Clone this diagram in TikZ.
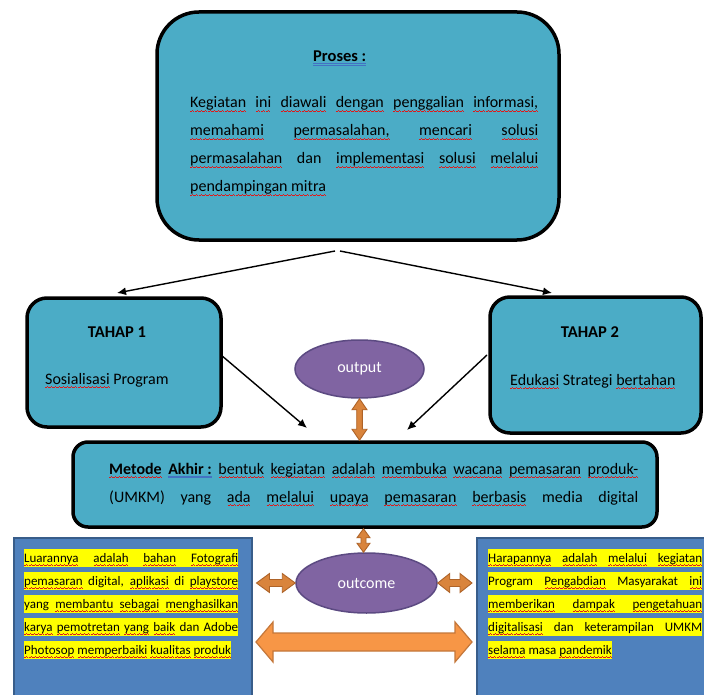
\documentclass[tikz,border=0pt]{standalone}
\usepackage{fontspec}
\setmainfont{Carlito}
\usetikzlibrary{shapes.geometric,arrows.meta,calc}
\definecolor{boxteal}{HTML}{4BACC6}
\definecolor{purfill}{HTML}{8064A2}
\definecolor{purdraw}{HTML}{5C4A82}
\definecolor{bluefill}{HTML}{4F81BD}
\definecolor{bluedraw}{HTML}{385D8A}
\definecolor{arrowor}{HTML}{D9843C}
\definecolor{arrowordk}{HTML}{AE6328}
\definecolor{bigor}{HTML}{F79646}
\definecolor{bigordk}{HTML}{C4773A}
\definecolor{wavered}{HTML}{E01818}
\definecolor{ulblue}{HTML}{4472C4}
\definecolor{hlyellow}{HTML}{FFFF00}
\newsavebox\rwbox
\newcommand\wavepiece{\rule[-4.0pt]{1pt}{0.7pt}\rule[-3.4pt]{1pt}{0.7pt}\rule[-2.8pt]{1pt}{0.7pt}\rule[-3.4pt]{1pt}{0.7pt}}
\newcommand\rw[1]{\sbox\rwbox{#1}\rlap{\textcolor{wavered}{\hbox to \wd\rwbox{\xleaders\hbox{\wavepiece}\hfil}}}\usebox\rwbox}
\newcommand\bdl[1]{\sbox\rwbox{#1}\rlap{\textcolor{ulblue}{\rule[-3.6pt]{\wd\rwbox}{0.7pt}}}\rlap{\textcolor{ulblue}{\rule[-2.2pt]{\wd\rwbox}{0.7pt}}}\usebox\rwbox}
\newcommand\jline[2]{\makebox[#1][s]{#2}}
\newcommand\hlj[2]{{\setlength{\fboxsep}{0pt}\colorbox{hlyellow}{\rule[-4.5pt]{0pt}{18pt}\makebox[#1][s]{#2}}}}
\newcommand\hln[1]{{\setlength{\fboxsep}{0pt}\colorbox{hlyellow}{\rule[-4.5pt]{0pt}{18pt}#1}}}
\newcommand\blockH[6]{\filldraw[#1] let \p1=(#2), \p2=(#3) in
  (\x1,\y1) -- (\x1+#6pt,\y1+#5pt) -- (\x1+#6pt,\y1+#4pt) -- (\x2-#6pt,\y1+#4pt) -- (\x2-#6pt,\y1+#5pt)
  -- (\x2,\y1) -- (\x2-#6pt,\y1-#5pt) -- (\x2-#6pt,\y1-#4pt) -- (\x1+#6pt,\y1-#4pt) -- (\x1+#6pt,\y1-#5pt) -- cycle;}
\newcommand\blockV[6]{\filldraw[#1] let \p1=(#2), \p2=(#3) in
  (\x1,\y1) -- (\x1+#5pt,\y1-#6pt) -- (\x1+#4pt,\y1-#6pt) -- (\x1+#4pt,\y2+#6pt) -- (\x1+#5pt,\y2+#6pt)
  -- (\x1,\y2) -- (\x1-#5pt,\y2+#6pt) -- (\x1-#4pt,\y2+#6pt) -- (\x1-#4pt,\y1-#6pt) -- (\x1-#5pt,\y1-#6pt) -- cycle;}
\begin{document}
\begin{tikzpicture}[x=1pt,y=-1pt,
  tealbox/.style={draw=black, line width=3.5pt, fill=boxteal, inner sep=0pt},
  purpleell/.style={ellipse, draw=purdraw, line width=1.5pt, fill=purfill, text=white, inner sep=0pt, font=\fontsize{16}{19}\selectfont},
  bluebox/.style={draw=bluedraw, line width=1.5pt, fill=bluefill, inner sep=0pt},
  txt/.style={inner sep=0pt, font=\fontsize{16}{19}\selectfont},
  smalltxt/.style={inner sep=0pt, anchor=base west, font=\fontsize{13}{16}\selectfont},
  headtxt/.style={inner sep=0pt, anchor=base, font=\fontsize{16.5}{19}\selectfont\bfseries},
  blackarrow/.style={-{Latex[length=9pt,width=8pt]}, line width=1.4pt},
  smallarrow/.style={fill=arrowor, draw=arrowordk, line width=0.9pt},
  bigarrow/.style={fill=bigor, draw=bigordk, line width=1.2pt}]
\useasboundingbox (0,0) rectangle (704,695);
\fill[white] (0,0) rectangle (704,695);

% Proses
\node[tealbox, rounded corners=42pt, minimum width=402pt, minimum height=228pt] (proses) at (358,126) {};
\node[headtxt, anchor=base west] (prosestitle) at (313,62) {\bdl{Proses :}};
\node[txt, anchor=base west] (p1) at (190,108) {\jline{348pt}{\rw{Kegiatan} \rw{ini} \rw{diawali} \rw{dengan} \rw{penggalian} \rw{informasi,}}};
\node[txt, anchor=base west] (p2) at (190,136) {\jline{348pt}{\rw{memahami} \rw{permasalahan,} \rw{mencari} \rw{solusi}}};
\node[txt, anchor=base west] (p3) at (190,164) {\jline{348pt}{\rw{permasalahan} dan \rw{implementasi} \rw{solusi} \rw{melalui}}};
\node[txt, anchor=base west] (p4) at (190,192) {\rw{pendampingan mitra}};

% Tahap boxes
\node[tealbox, rounded corners=20pt, minimum width=194pt, minimum height=129pt] (tahap1) at (124,362.5) {};
\node[headtxt] (t1title) at (117,337) {TAHAP 1};
\node[txt, anchor=base west] (t1text) at (45,384) {\rw{Sosialisasi} Program};
\node[tealbox, rounded corners=20pt, minimum width=211pt, minimum height=136pt] (tahap2) at (595.5,365) {};
\node[headtxt] (t2title) at (590,337) {TAHAP 2};
\node[txt, anchor=base west] (t2text) at (510,385) {\rw{Edukasi} Strategi \rw{bertahan}};

% output ellipse
\node[purpleell, minimum width=129pt, minimum height=58pt] (output) at (359.5,369) {output};

% Metode box
\node[tealbox, rounded corners=15pt, minimum width=584pt, minimum height=85pt] (metode) at (365,484.5) {};
\node[txt, anchor=base west] (m1) at (109,474) {\jline{529pt}{{\bfseries\rw{Metode} \bdl{Akhir :}} \rw{bentuk} \rw{kegiatan} \rw{adalah} \rw{membuka} \rw{wacana} \rw{pemasaran} \rw{produk-}}};
\node[txt, anchor=base west] (m2) at (109,502) {\jline{529pt}{(UMKM) yang \rw{ada} \rw{melalui} \rw{upaya} \rw{pemasaran} \rw{berbasis} media digital}};

% bottom boxes
\node[bluebox, minimum width=238pt, minimum height=180pt, anchor=north west] (leftbox) at (13,537) {};
\node[bluebox, minimum width=240pt, minimum height=180pt, anchor=north west] (rightbox) at (476,537) {};

\node[smalltxt] (b1) at (24,562) {\hlj{214pt}{\rw{Luarannya} \rw{adalah} \rw{bahan} \rw{Fotografi}}};
\node[smalltxt] (b2) at (24,585) {\hlj{214pt}{\rw{pemasaran} digital, \rw{aplikasi} di \rw{playstore}}};
\node[smalltxt] (b3) at (24,608) {\hlj{214pt}{yang \rw{membantu} \rw{sebagai} \rw{menghasilkan}}};
\node[smalltxt] (b4) at (24,631) {\hlj{214pt}{\rw{karya} \rw{pemotretan} \rw{yang} \rw{baik} dan Adobe}};
\node[smalltxt] (b5) at (24,654) {\hln{\rw{Photosop} \rw{memperbaiki} \rw{kualitas} \rw{produk}}};

\node[smalltxt] (r1) at (488,562) {\hlj{214pt}{\rw{Harapannya} \rw{adalah} \rw{melalui} \rw{kegiatan}}};
\node[smalltxt] (r2) at (488,585) {\hlj{214pt}{Program \rw{Pengabdian} Masyarakat \rw{ini}}};
\node[smalltxt] (r3) at (488,608) {\hlj{214pt}{\rw{memberikan} \rw{dampak} \rw{pengetahuan}}};
\node[smalltxt] (r4) at (488,631) {\hlj{214pt}{\rw{digitalisasi} dan keterampilan UMKM}};
\node[smalltxt] (r5) at (488,654) {\hln{\rw{selama} masa \rw{pandemik}}};

% outcome ellipse
\node[purpleell, minimum width=141pt, minimum height=60pt] (outcome) at (366.5,583) {outcome};

% black arrows
\coordinate (pa) at (335,251);
\coordinate (pb) at (340,251);
\coordinate (t1in) at (117,293);
\coordinate (t2in) at (552,293);
\draw[blackarrow] (pa) -- (t1in);
\draw[blackarrow] (pb) -- (t2in);
\coordinate (t1out) at (221,355);
\coordinate (m1in) at (307,428);
\coordinate (t2out) at (487,355);
\coordinate (m2in) at (407,430);
\draw[blackarrow] (t1out) -- (m1in);
\draw[blackarrow] (t2out) -- (m2in);

% orange arrows
\coordinate (a1bot) at (output.south |- metode.north);
\blockV{smallarrow}{output.south}{a1bot}{2.8}{7.5}{11}
\coordinate (a2top) at ($(outcome.north |- metode.south)+(-3,0)$);
\coordinate (a2bot) at ($(outcome.north)+(-3,0)$);
\blockV{smallarrow}{a2top}{a2bot}{2.5}{6.5}{9}
\coordinate (hl) at ($(leftbox.east |- outcome.west)+(4,0)$);
\blockH{smallarrow}{hl}{outcome.west}{3.5}{9.5}{13}
\coordinate (hr) at ($(rightbox.west |- outcome.east)+(-4,0)$);
\blockH{smallarrow}{outcome.east}{hr}{3.5}{9.5}{12}
\coordinate (bl) at (256,642);
\coordinate (br) at (472,642);
\blockH{bigarrow}{bl}{br}{9}{20}{17}
\end{tikzpicture}
\end{document}
